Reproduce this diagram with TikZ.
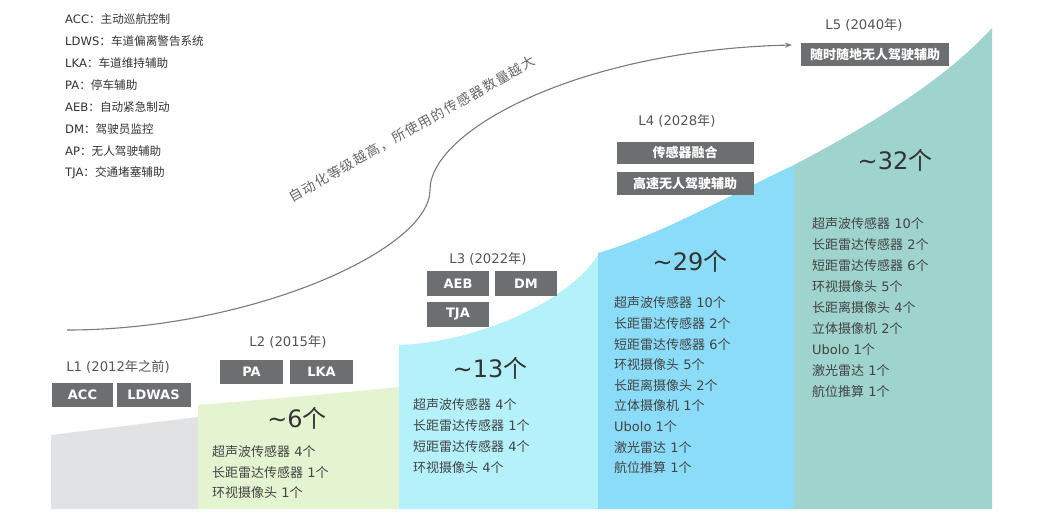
\documentclass[tikz,border=0pt]{standalone}
\usepackage{fontspec}
\setmainfont{DejaVu Sans}
\newfontfamily\cjk{Noto Sans CJK SC}
\newfontfamily\cjkwide[LetterSpace=10]{Noto Sans CJK SC}
\usetikzlibrary{arrows.meta}
% automatic switch to the CJK font for CJK characters
\XeTeXinterchartokenstate=1
\newXeTeXintercharclass\CJKcls
\newcount\cjkc
\def\setcjkrange#1#2{\cjkc=#1\relax\loop\XeTeXcharclass\cjkc=\CJKcls\relax\ifnum\cjkc<#2\advance\cjkc by 1\relax\repeat}
\setcjkrange{"4E00}{"9FFF}
\setcjkrange{"3000}{"303F}
\setcjkrange{"FF00}{"FFEF}
\cjkc="21 \loop\XeTeXcharclass\cjkc=0 \ifnum\cjkc<"7E \advance\cjkc by 1 \repeat
\XeTeXinterchartoks 0 \CJKcls = {\begingroup\cjk}
\XeTeXinterchartoks 4095 \CJKcls = {\begingroup\cjk}
\XeTeXinterchartoks \CJKcls 0 = {\endgroup}
\XeTeXinterchartoks \CJKcls 4095 = {\endgroup}

\definecolor{bgrey}{HTML}{E1E2E4}
\definecolor{bgreen}{HTML}{E4F4D0}
\definecolor{bcyan}{HTML}{B5F1FB}
\definecolor{bblue}{HTML}{8BDCF8}
\definecolor{bteal}{HTML}{9ED3CE}
\definecolor{tagfill}{HTML}{6D6E70}
\definecolor{tdark}{HTML}{333333}
\definecolor{tmid}{HTML}{444444}
\definecolor{tlab}{HTML}{555555}
\definecolor{tcurve}{HTML}{666666}
\definecolor{lcurve}{HTML}{7A7A7A}

\tikzset{
  legend/.style={anchor=west, inner sep=0pt, font=\fontsize{11.6}{13}\selectfont, text=tdark},
  lvl/.style={inner sep=0pt, font=\fontsize{13.2}{15}\selectfont, text=tlab},
  tag/.style={fill=tagfill, text=white, inner sep=0pt, font=\bfseries\fontsize{13}{15}\selectfont},
  cnt/.style={inner sep=0pt, font=\fontsize{24}{28}\selectfont, text=tdark},
  item/.style={anchor=west, inner sep=0pt, font=\fontsize{13}{15}\selectfont, text=tmid},
  curve/.style={draw=lcurve, line width=1.1pt, -{Stealth[length=7pt,width=5pt]}},
}

\begin{document}
\begin{tikzpicture}[x=1pt,y=-1pt]
\useasboundingbox (0,0) rectangle (1038,516);
\fill[white] (0,0) rectangle (1038,516);

% bands
\fill[bgrey] (51,435) -- (198,417) -- (198,509) -- (51,509) -- cycle;
\fill[bgreen] (198,405) .. controls (270,399) and (340,393) .. (400,387) -- (400,509) -- (198,509) -- cycle;
\fill[bcyan] (399,345) .. controls (480,342) and (570,300) .. (598,255) -- (598,509) -- (399,509) -- cycle;
\fill[bblue] (598,253) .. controls (660,235) and (730,195) .. (794,165) -- (794,509) -- (598,509) -- cycle;
\fill[bteal] (794,165) .. controls (860,130) and (940,85) .. (992,28) -- (992,509) -- (794,509) -- cycle;

% legend
\foreach \t [count=\i] in {ACC：主动巡航控制,LDWS：车道偏离警告系统,LKA：车道维持辅助,PA：停车辅助,AEB：自动紧急制动,DM：驾驶员监控,AP：无人驾驶辅助,TJA：交通堵塞辅助}
  \node[legend] (leg\i) at (65,{19+(\i-1)*22}) {\t};

% trend curve
\coordinate (cs) at (67,330);
\coordinate (cm) at (430,190);
\coordinate (ce) at (792,45);
\draw[curve] (cs) .. controls (250,330) and (430,250) .. (cm) .. controls (430,130) and (580,50) .. (ce);
\node[rotate=29.5, inner sep=0pt, text=tcurve, font={\XeTeXinterchartokenstate=0\cjkwide\fontsize{13.5}{16}\selectfont}] (slogan) at (412,129) {自动化等级越高，所使用的传感器数量越大};

% level labels
\node[lvl] (lab1) at (118,367) {L1 (2012年之前)};
\node[lvl] (lab2) at (288,342) {L2 (2015年)};
\node[lvl] (lab3) at (488,259) {L3 (2022年)};
\node[lvl] (lab4) at (677,121) {L4 (2028年)};
\node[lvl] (lab5) at (864,25) {L5 (2040年)};

% tags
\node[tag, minimum width=61pt, minimum height=24pt] (acc) at (82.5,395) {ACC};
\node[tag, minimum width=74pt, minimum height=24pt] (ldwas) at (153.5,395) {LDWAS};
\node[tag, minimum width=63pt, minimum height=24pt] (pa) at (251.5,372) {PA};
\node[tag, minimum width=63pt, minimum height=24pt] (lka) at (321.5,372) {LKA};
\node[tag, minimum width=62pt, minimum height=25pt] (aeb) at (458,283.5) {AEB};
\node[tag, minimum width=62pt, minimum height=25pt] (dm) at (526,283.5) {DM};
\node[tag, minimum width=62pt, minimum height=25pt] (tja) at (458,314.5) {TJA};
\node[tag, minimum width=137pt, minimum height=22pt] (fusion) at (685,153) {传感器融合};
\node[tag, minimum width=137pt, minimum height=23pt] (hwy) at (685,183.5) {高速无人驾驶辅助};
\node[tag, minimum width=148pt, minimum height=23pt] (any) at (875,54.5) {随时随地无人驾驶辅助};

% counts
\node[cnt] (n2) at (297,418) {\textasciitilde6个};
\node[cnt] (n3) at (490,368) {\textasciitilde13个};
\node[cnt] (n4) at (690,261) {\textasciitilde29个};
\node[cnt] (n5) at (895,160) {\textasciitilde32个};

% sensor lists
\foreach \t [count=\i] in {超声波传感器 4个,长距雷达传感器 1个,环视摄像头 1个}
  \node[item] (l2i\i) at (212,{452+(\i-1)*20.5}) {\t};
\foreach \t [count=\i] in {超声波传感器 4个,长距雷达传感器 1个,短距雷达传感器 4个,环视摄像头 4个}
  \node[item] (l3i\i) at (413,{405+(\i-1)*20.7}) {\t};
\foreach \t [count=\i] in {超声波传感器 10个,长距雷达传感器 2个,短距雷达传感器 6个,环视摄像头 5个,长距离摄像头 2个,立体摄像机 1个,Ubolo 1个,激光雷达 1个,航位推算 1个}
  \node[item] (l4i\i) at (614,{303+(\i-1)*20.6}) {\t};
\foreach \t [count=\i] in {超声波传感器 10个,长距雷达传感器 2个,短距雷达传感器 6个,环视摄像头 5个,长距离摄像头 4个,立体摄像机 2个,Ubolo 1个,激光雷达 1个,航位推算 1个}
  \node[item] (l5i\i) at (812,{224+(\i-1)*21}) {\t};
\end{tikzpicture}
\end{document}
